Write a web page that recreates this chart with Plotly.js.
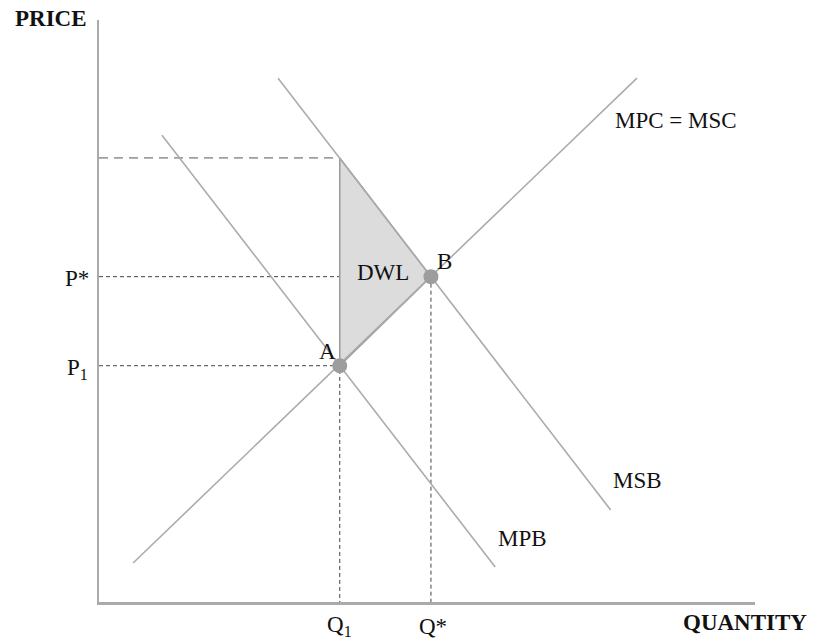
<!DOCTYPE html>
<html>
<head>
<meta charset="utf-8">
<script src="https://cdn.plot.ly/plotly-3.0.1.min.js"></script>
<style>html,body{margin:0;padding:0;background:#fff}#chart{width:814px;height:640px}</style>
</head>
<body>
<div id="chart"></div>
<script>
// Curve endpoints (quantity, price) in chart units
const mpcX = [0.52, 8.20];
const mpcY = [0.67, 9.00];
const msbX = [2.73, 7.80];
const msbY = [9.00, 1.58];
const mpbX = [0.96, 6.04];
const mpbY = [8.02, 0.60];
// Equilibrium points A (market) and B (social optimum)
const pointLabels = ['A', 'B'];
const pointsX = [3.67, 5.06];
const pointsY = [4.06, 5.59];
// Price where MSB meets Q1
const pTop = 7.63;
// Deadweight loss triangle
const dwlX = [pointsX[0], pointsX[0], pointsX[1], pointsX[0]];
const dwlY = [pTop, pointsY[0], pointsY[1], pTop];
// Axis reference labels
const priceLabels = ['P*', 'P<sub>1</sub>'];
const priceValues = [pointsY[1], pointsY[0]];
const qtyLabels = ['Q<sub>1</sub>', 'Q*'];
const qtyValues = [pointsX[0], pointsX[1]];
const curveLabels = ['MPC = MSC', 'MSB', 'MPB'];

const lineGray = '#ababab';
const dashGray = '#444';
const font = 'Liberation Serif, Times New Roman, serif';
const XMAX = 10, YMAX = 10;

const traces = [];
// Long dashed top line
traces.push({x: [0, pointsX[0]], y: [pTop, pTop], mode: 'lines',
  line: {color: '#555', width: 1, dash: '9px,6px'}, hoverinfo: 'skip'});
// Short dashed guides
traces.push({x: [0, pointsX[0]], y: [pointsY[1], pointsY[1]], mode: 'lines',
  line: {color: dashGray, width: 1, dash: '4px,3px'}, hoverinfo: 'skip'});
traces.push({x: [pointsX[1], pointsX[1]], y: [pointsY[1], 0], mode: 'lines',
  line: {color: dashGray, width: 1, dash: '4px,3px'}, hoverinfo: 'skip'});
traces.push({x: [0, pointsX[0], pointsX[0]], y: [pointsY[0], pointsY[0], 0], mode: 'lines',
  line: {color: dashGray, width: 1, dash: '4px,3px'}, hoverinfo: 'skip'});
// DWL fill
traces.push({x: dwlX, y: dwlY, mode: 'lines', fill: 'toself', fillcolor: '#dcdcdc',
  line: {color: '#9a9a9a', width: 1.5}, hoverinfo: 'skip'});
// Curves
traces.push({x: mpcX, y: mpcY, mode: 'lines', line: {color: lineGray, width: 1.6}, hoverinfo: 'skip'});
traces.push({x: msbX, y: msbY, mode: 'lines', line: {color: lineGray, width: 1.6}, hoverinfo: 'skip'});
traces.push({x: mpbX, y: mpbY, mode: 'lines', line: {color: lineGray, width: 1.6}, hoverinfo: 'skip'});
// Points
traces.push({x: pointsX, y: pointsY, mode: 'markers', marker: {color: '#9d9d9d', size: 15},
  hoverinfo: 'skip', cliponaxis: false});

const ann = [];
// positions given in data units, placed through paper refs so labels outside the axes still show
const txt = (x, y, text, opts) => Object.assign({x: x / XMAX, y: y / YMAX, xref: 'paper', yref: 'paper', text: text,
  xanchor: 'center', yanchor: 'middle',
  showarrow: false, font: {family: font, size: 23, color: '#111'}}, opts || {});
ann.push(txt(-0.73, 10.02, '<b>PRICE</b>', {font: {family: font, size: 23, color: '#111'}}));
ann.push(txt(9.85, -0.36, '<b>QUANTITY</b>', {font: {family: font, size: 23, color: '#111'}}));
ann.push(txt(-0.33, priceValues[0] - 0.04, priceLabels[0]));
ann.push(txt(-0.33, priceValues[1] - 0.05, priceLabels[1]));
ann.push(txt(qtyValues[0], -0.42, qtyLabels[0]));
ann.push(txt(qtyValues[1] + 0.03, -0.42, qtyLabels[1]));
ann.push(txt(8.80, 8.27, curveLabels[0]));
ann.push(txt(8.21, 2.09, curveLabels[1]));
ann.push(txt(6.45, 1.09, curveLabels[2]));
ann.push(txt(4.33, 5.67, 'DWL'));
ann.push(txt(pointsX[1] + 0.21, pointsY[1] + 0.26, pointLabels[1]));
ann.push(txt(pointsX[0] - 0.18, pointsY[0] + 0.24, pointLabels[0]));

const layout = {
  width: 814, height: 640,
  margin: {l: 99, r: 59, t: 20, b: 38, pad: 0},
  paper_bgcolor: '#fff', plot_bgcolor: '#fff',
  showlegend: false,
  xaxis: {range: [0, XMAX], showline: true, linecolor: '#aaa', linewidth: 2.5, showgrid: false,
    zeroline: false, showticklabels: false, ticks: '', fixedrange: true},
  yaxis: {range: [0, YMAX], showline: true, linecolor: '#aaa', linewidth: 2.5, showgrid: false,
    zeroline: false, showticklabels: false, ticks: '', fixedrange: true},
  annotations: ann
};
Plotly.newPlot('chart', traces, layout, {staticPlot: true, displayModeBar: false});
</script>
</body>
</html>
